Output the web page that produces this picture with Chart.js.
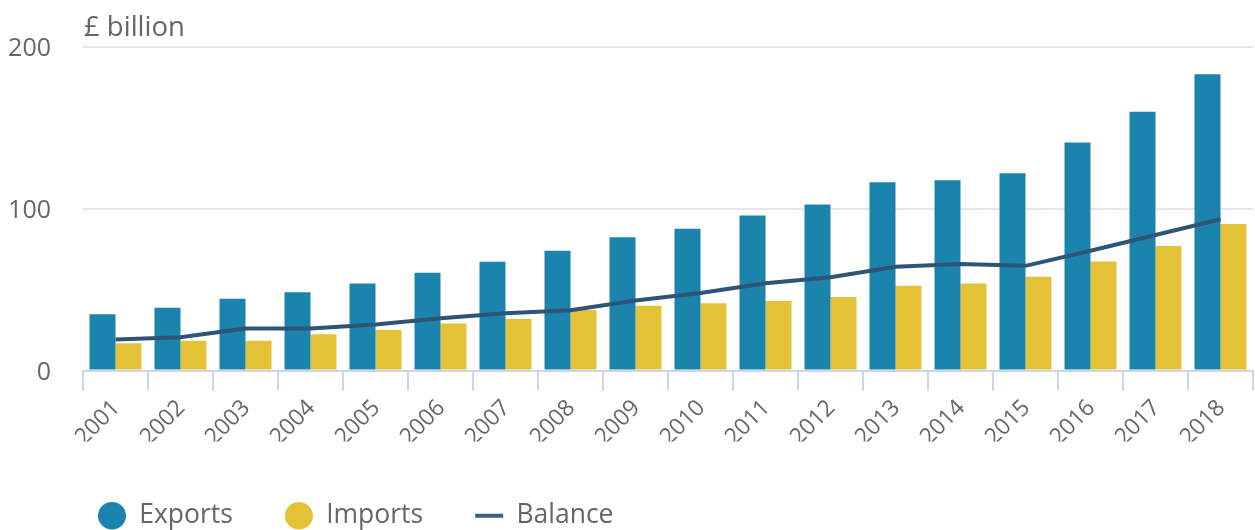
<!DOCTYPE html>
<html>
<head>
<meta charset="utf-8">
<script src="https://cdn.jsdelivr.net/npm/chart.js@4.4.0/dist/chart.umd.min.js"></script>
<style>
  html, body { margin: 0; padding: 0; background: #fff; }
</style>
</head>
<body>
<canvas id="myChart" width="1255" height="530"></canvas>
<script>
const years = ['2001', '2002', '2003', '2004', '2005', '2006', '2007', '2008', '2009',
               '2010', '2011', '2012', '2013', '2014', '2015', '2016', '2017', '2018'];
const exportsBn = [34.8, 38.8, 44.3, 48.3, 53.8, 60.5, 67.2, 74.0, 82.4,
                   87.7, 95.9, 102.6, 116.4, 117.6, 121.9, 140.9, 160.0, 183.1];
const importsBn = [16.9, 18.4, 18.4, 22.4, 25.0, 29.1, 31.9, 37.4, 40.0,
                   41.5, 42.9, 45.5, 52.4, 53.8, 57.9, 67.4, 76.9, 90.5];
const balanceBn = [19.1, 20.5, 26.0, 26.0, 28.4, 32.3, 35.4, 37.2, 43.3,
                   47.9, 54.0, 57.6, 64.1, 65.8, 64.7, 74.0, 83.8, 93.5];
const yTicks = [0, 100, 200];
const unitTitle = '£ billion';

const textColor = '#666666';
const fontFamily = '"Open Sans", sans-serif';

// unit label above the plot, and nudge the legend to where it sits in the original
const unitLabel = {
    id: 'unitLabel',
    afterLayout(chart) {
        chart.legend.left += 46;
        chart.legend.top += 9;
    },
    afterDraw(chart) {
        const ctx = chart.ctx;
        ctx.save();
        ctx.font = '27.5px ' + fontFamily;
        ctx.fillStyle = textColor;
        ctx.textBaseline = 'alphabetic';
        ctx.fillText(unitTitle, chart.chartArea.left + 1, 36);
        ctx.restore();
    }
};

const ctx = document.getElementById('myChart').getContext('2d');

const myChart = new Chart(ctx, {
    data: {
        labels: years,
        datasets: [
            {
                type: 'bar',
                label: 'Exports',
                data: exportsBn,
                backgroundColor: '#1b84ad',
                borderWidth: 0,
                barPercentage: 1,
                categoryPercentage: 0.8,
                pointStyle: 'circle',
                order: 1
            },
            {
                type: 'bar',
                label: 'Imports',
                data: importsBn,
                backgroundColor: '#e3c238',
                borderWidth: 0,
                barPercentage: 1,
                categoryPercentage: 0.8,
                pointStyle: 'circle',
                order: 1
            },
            {
                type: 'line',
                label: 'Balance',
                data: balanceBn,
                borderColor: '#2e5478',
                backgroundColor: '#2e5478',
                borderWidth: 4,
                pointRadius: 0,
                pointBorderWidth: 4,
                pointBorderColor: '#3a5f82',
                pointStyle: 'line',
                tension: 0,
                order: 0
            }
        ]
    },
    options: {
        responsive: false,
        animation: false,
        layout: {
            padding: { top: 41, right: 2, left: 0, bottom: 0 }
        },
        plugins: {
            tooltip: { enabled: false },
            legend: {
                position: 'bottom',
                align: 'start',
                labels: {
                    usePointStyle: true,
                    pointStyleWidth: 28,
                    boxHeight: 19.5,
                    padding: 52,
                    color: textColor,
                    font: { size: 26.5, family: fontFamily },
                    sort: (a, b) => a.datasetIndex - b.datasetIndex
                }
            }
        },
        scales: {
            x: {
                grid: {
                    offset: true,
                    drawOnChartArea: false,
                    drawTicks: true,
                    tickLength: 20,
                    color: '#ccd6eb',
                    lineWidth: 2
                },
                border: { display: true, color: '#ccd6eb', width: 2 },
                ticks: {
                    autoSkip: false,
                    maxRotation: 45,
                    minRotation: 45,
                    padding: 4,
                    labelOffset: 1,
                    color: textColor,
                    font: { size: 23, family: fontFamily }
                },
                afterFit(scale) { scale.height = 71; }
            },
            y: {
                min: yTicks[0],
                max: yTicks[yTicks.length - 1],
                afterBuildTicks(scale) {
                    scale.ticks = yTicks.map(v => ({ value: v }));
                },
                ticks: {
                    padding: 32,
                    labelOffset: 2,
                    color: textColor,
                    font: { size: 25, family: fontFamily }
                },
                grid: {
                    drawTicks: false,
                    lineWidth: 2,
                    color: (c) => c.tick && c.tick.value === 0 ? 'rgba(0,0,0,0)' : '#e6e6e6'
                },
                border: { display: false },
                afterFit(scale) { scale.width = 83; }
            }
        }
    },
    plugins: [unitLabel]
});
</script>
</body>
</html>
